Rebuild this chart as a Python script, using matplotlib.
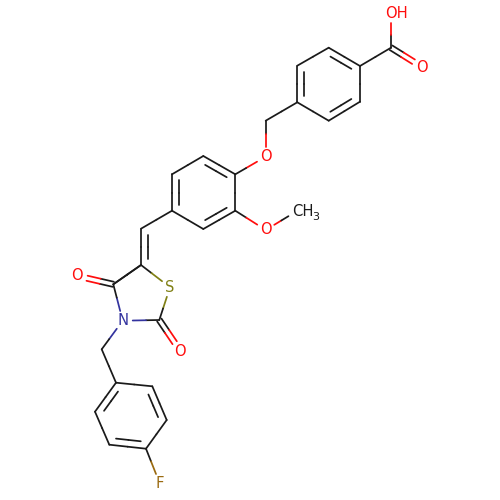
import numpy as np
import matplotlib
matplotlib.use("Agg")
import matplotlib.pyplot as plt

# atoms: element, x, y (pixels)
elements = ["O", "C", "O", "C", "C", "C", "C", "C", "C", "C", "O",
            "C", "C", "C", "C", "C", "C", "O", "CH3", "C", "C", "S",
            "C", "O", "N", "C", "O", "C", "C", "C", "C", "C", "C", "C", "F"]
atom_x = [391, 391, 422, 360, 328.7, 297.3, 297.3, 328.7, 360, 265.7, 265.7,
          235.3, 203.3, 172, 172, 203.3, 235.3, 265.7, 297, 141, 141, 170,
          159.3, 180.3, 122.7, 113.3, 77.3, 101.7, 116, 152.3, 166.7, 146, 109.3, 95, 159.7]
atom_y = [13, 47.7, 67, 66, 47.7, 65.7, 102.3, 120.7, 101.7, 120.7, 156.7,
          174.3, 156, 174.3, 210.7, 229, 210.7, 230, 211, 228.7, 265, 287.3,
          320, 351, 320.7, 284.3, 276, 349.3, 382.7, 386.3, 420, 448.7, 444.7, 411.7, 483.3]

# bonds: first atom, second atom, order, atom the short line leans towards (-1 = centred)
bond_a = [1, 1, 1, 3, 4, 5, 6, 7, 8, 6, 9, 10, 11, 12, 13, 14, 15, 16, 16, 17,
          14, 19, 20, 21, 22, 22, 24, 25, 25, 20, 24, 27, 28, 29, 30, 31, 32, 33, 31]
bond_b = [0, 2, 3, 4, 5, 6, 7, 8, 3, 9, 10, 11, 12, 13, 14, 15, 16, 11, 17, 18,
          19, 20, 21, 22, 23, 24, 25, 26, 20, 25, 27, 28, 29, 30, 31, 32, 33, 28, 34]
bond_order = [1, 2, 1, 2, 1, 2, 1, 2, 1, 1, 1, 1, 2, 1, 2, 1, 2, 1, 1, 1,
              1, 2, 1, 1, 2, 1, 1, 2, 1, 1, 1, 1, 1, 2, 1, 2, 1, 2, 1]
bond_side = [-1, -1, -1, 5, -1, 8, -1, 4, -1, -1, -1, -1, 14, -1, 12, -1, 13, -1, -1, -1,
             -1, 13, -1, -1, -1, -1, -1, -1, -1, -1, -1, -1, -1, 31, -1, 28, -1, 30, -1]

COLOURS = {"C": "#1a1a1a", "CH3": "#1a1a1a", "O": "#ff0d0d", "N": "#33339f",
           "S": "#808015", "F": "#9a6a10"}
LABEL_GAP = {"C": 0, "O": 10, "N": 10, "S": 10, "F": 10, "CH3": 10}
LABEL_SIZE = 10.6


def draw_segment(axes, p0, p1, el0, el1):
    """Draw one line, split at its middle into the colours of both atoms."""
    mid = (p0 + p1) / 2
    axes.plot([p0[0], mid[0]], [p0[1], mid[1]], color=COLOURS[el0], lw=1.25, solid_capstyle="round")
    axes.plot([mid[0], p1[0]], [mid[1], p1[1]], color=COLOURS[el1], lw=1.25, solid_capstyle="round")


fig = plt.figure(figsize=(5, 5), dpi=100)
ax = fig.add_axes([0, 0, 1, 1])
ax.set_xlim(0, 500)
ax.set_ylim(500, 0)
ax.axis("off")

pts = np.column_stack([atom_x, atom_y])

for a, b, order, side in zip(bond_a, bond_b, bond_order, bond_side):
    el_a, el_b = elements[a], elements[b]
    direction = (pts[b] - pts[a]) / np.linalg.norm(pts[b] - pts[a])
    normal = np.array([-direction[1], direction[0]])
    start = pts[a] + direction * LABEL_GAP[el_a]
    end = pts[b] - direction * LABEL_GAP[el_b]
    if order == 1:
        draw_segment(ax, start, end, el_a, el_b)
    elif side < 0:
        # C=O: two lines either side of the axis
        for sign in (-1, 1):
            draw_segment(ax, start + sign * 2.6 * normal, end + sign * 2.6 * normal, el_a, el_b)
    else:
        if np.dot(pts[side] - pts[a], normal) < 0:
            normal = -normal
        draw_segment(ax, start, end, el_a, el_b)
        draw_segment(ax, start + 6.8 * normal + 6 * direction, end + 6.8 * normal - 6 * direction, el_a, el_b)

for el, x, y in zip(elements, atom_x, atom_y):
    if el == "C":
        continue
    if el == "CH3":
        ax.text(x - 5, y + 1, "CH", color=COLOURS[el], fontsize=LABEL_SIZE, ha="left", va="center")
        ax.text(x + 15.5, y + 6.5, "3", color=COLOURS[el], fontsize=8, ha="left", va="center")
    elif el == "O" and y < 20:
        ax.text(x + 6, y, "OH", color=COLOURS[el], fontsize=LABEL_SIZE, ha="center", va="center")
    else:
        ax.text(x, y, el, color=COLOURS[el], fontsize=LABEL_SIZE, ha="center", va="center")

fig.savefig("out.png", dpi=100, facecolor="white")
